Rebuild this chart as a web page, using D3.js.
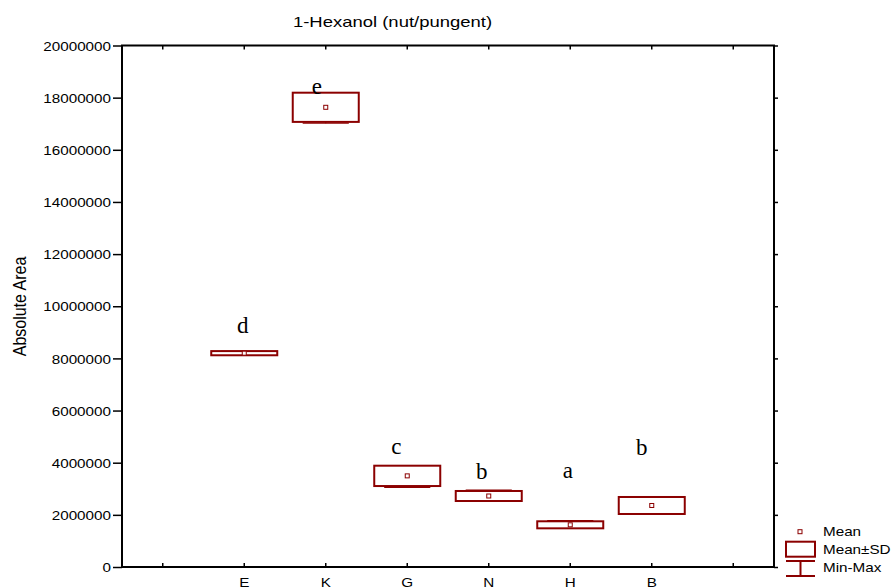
<!DOCTYPE html>
<html><head><meta charset="utf-8">
<script src="https://cdn.jsdelivr.net/npm/d3@7"></script>
<style>body{margin:0;background:#fff}svg{display:block}</style>
</head><body><svg id="c" width="892" height="588"></svg>
<script>
// ---- data ----
const tickLabels = ["", "E", "K", "G", "N", "H", "B", ""];
const groups = ["E", "K", "G", "N", "H", "B"];
const means = [8200000, 17630000, 3495000, 2723000, 1618000, 2359000];
const sds = [80000, 560000, 390000, 192000, 135000, 326000];
const mins = [8130000, 17020000, 3057000, 2560000, 1500000, 2050000];
const maxs = [8270000, 18100000, 3840000, 2953000, 1776000, 2680000];
const letters = ["d", "e", "c", "b", "a", "b"];
const letterValues = [8960000, 18140000, 4330000, 3360000, 3400000, 4300000];
const yTicks = d3.range(0, 20000001, 2000000);
const titleText = "1-Hexanol (nut/pungent)";
const yTitleText = "Absolute Area";
const legendLabels = ["Mean", "Mean\u00B1SD", "Min-Max"];

// ---- layout / style ----
const L = 122, R = 774, T = 45.5, B = 567;
const red = "#8B0000";
const sans = "'Liberation Sans', Arial, sans-serif";
const serif = "'Liberation Serif', 'Times New Roman', serif";
const SX = 1.2; // horizontal stretch of the text in the reference
const letterShift = [-1.5, -9, -11, -7, -2.5, -10];

const svg = d3.select("#c");
const x = d3.scaleBand().domain(d3.range(tickLabels.length)).range([L, R]).padding(0);
const y = d3.scaleLinear().domain([0, 20000000]).range([B, T]);
const cx = g => x(tickLabels.indexOf(g)) + x.bandwidth() / 2;
const bw = x.bandwidth();

// axes
const yAxisL = d3.axisLeft(y).tickValues(yTicks).tickSize(9).tickFormat(d3.format("d"));
const gL = svg.append("g").attr("transform", `translate(${L},0)`).call(yAxisL);
gL.select(".domain").remove();
gL.selectAll(".tick line").attr("stroke", "#000").attr("stroke-width", 1.5);
gL.selectAll(".tick text")
  .attr("x", null).attr("dy", null)
  .attr("transform", `translate(-11,4.6) scale(${SX},1)`)
  .attr("font-family", sans).attr("font-size", 12.7).attr("fill", "#000");

const gR = svg.append("g").attr("transform", `translate(${R},0)`)
  .call(d3.axisLeft(y).tickValues(yTicks).tickSize(-4).tickFormat(""));
gR.select(".domain").remove();
gR.selectAll(".tick line").attr("stroke", "#000").attr("stroke-width", 1.5);

const gT = svg.append("g").attr("transform", `translate(0,${T})`)
  .call(d3.axisTop(x).tickSize(-4).tickFormat(""));
gT.select(".domain").remove();
gT.selectAll(".tick line").attr("stroke", "#000").attr("stroke-width", 1.5);

const gB = svg.append("g").attr("transform", `translate(0,${B})`)
  .call(d3.axisBottom(x).tickSize(-4).tickFormat(i => tickLabels[i]));
gB.select(".domain").remove();
gB.selectAll(".tick line").attr("stroke", "#000").attr("stroke-width", 1.5);
gB.selectAll(".tick text")
  .attr("y", null).attr("dy", null)
  .attr("transform", `translate(0,19.8) scale(${SX},1)`)
  .attr("font-family", sans).attr("font-size", 12.7).attr("fill", "#000");

// frame
svg.append("rect").attr("x", L).attr("y", T).attr("width", R - L).attr("height", B - T)
  .attr("fill", "none").attr("stroke", "#000").attr("stroke-width", 2);

// whiskers
const data = groups.map((g, i) => ({g, i, mean: means[i], sd: sds[i], min: mins[i], max: maxs[i]}));
const wg = svg.append("g").attr("stroke", red).attr("stroke-width", 1.2).attr("fill", "none");
data.forEach(d => {
  const c = cx(d.g);
  wg.append("line").attr("x1", c).attr("x2", c).attr("y1", y(d.min)).attr("y2", y(d.max));
  wg.append("line").attr("x1", c - bw * 0.283).attr("x2", c + bw * 0.283).attr("y1", y(d.min)).attr("y2", y(d.min));
  wg.append("line").attr("x1", c - bw * 0.283).attr("x2", c + bw * 0.283).attr("y1", y(d.max)).attr("y2", y(d.max));
});

// boxes
svg.append("g").selectAll("rect").data(data).join("rect")
  .attr("x", d => cx(d.g) - bw * 0.405).attr("width", bw * 0.81)
  .attr("y", d => y(d.mean + d.sd)).attr("height", d => y(d.mean - d.sd) - y(d.mean + d.sd))
  .attr("fill", "#fff").attr("stroke", red).attr("stroke-width", 2);

// means
svg.append("g").selectAll("rect").data(data).join("rect")
  .attr("x", d => cx(d.g) - 2).attr("y", d => y(d.mean) - 2).attr("width", 4).attr("height", 4)
  .attr("fill", "#fff").attr("stroke", red).attr("stroke-width", 1);

// letters
svg.append("g").selectAll("text").data(data).join("text")
  .attr("x", d => cx(d.g) + letterShift[d.i]).attr("y", d => y(letterValues[d.i]))
  .attr("text-anchor", "middle").attr("font-family", serif).attr("font-size", 23).attr("fill", "#000")
  .text(d => letters[d.i]);

// title
svg.append("text").attr("transform", `translate(392.5,27.3) scale(${SX},1)`)
  .attr("text-anchor", "middle").attr("font-family", sans).attr("font-size", 15.4).attr("fill", "#000")
  .text(titleText);

// y title
svg.append("text").attr("transform", `translate(25.7,306.5) scale(${SX},1) rotate(-90)`)
  .attr("text-anchor", "middle").attr("font-family", sans).attr("font-size", 16).attr("fill", "#000")
  .text(yTitleText);

// legend
const lg = svg.append("g");
lg.append("rect").attr("x", 798).attr("y", 529.7).attr("width", 4).attr("height", 4)
  .attr("fill", "#fff").attr("stroke", red).attr("stroke-width", 1);
lg.append("rect").attr("x", 786).attr("y", 541.7).attr("width", 29).attr("height", 15)
  .attr("fill", "#fff").attr("stroke", red).attr("stroke-width", 2);
lg.append("line").attr("x1", 786).attr("x2", 815).attr("y1", 561).attr("y2", 561).attr("stroke", red).attr("stroke-width", 2);
lg.append("line").attr("x1", 786).attr("x2", 815).attr("y1", 576).attr("y2", 576).attr("stroke", red).attr("stroke-width", 2);
lg.append("line").attr("x1", 800.5).attr("x2", 800.5).attr("y1", 561).attr("y2", 576).attr("stroke", red).attr("stroke-width", 2);
const lby = [536, 554, 572.3];
legendLabels.forEach((t, i) => {
  lg.append("text").attr("transform", `translate(823,${lby[i]}) scale(${SX},1)`)
    .attr("font-family", sans).attr("font-size", 12.7).attr("fill", "#000").text(t);
});
</script>
</body></html>
